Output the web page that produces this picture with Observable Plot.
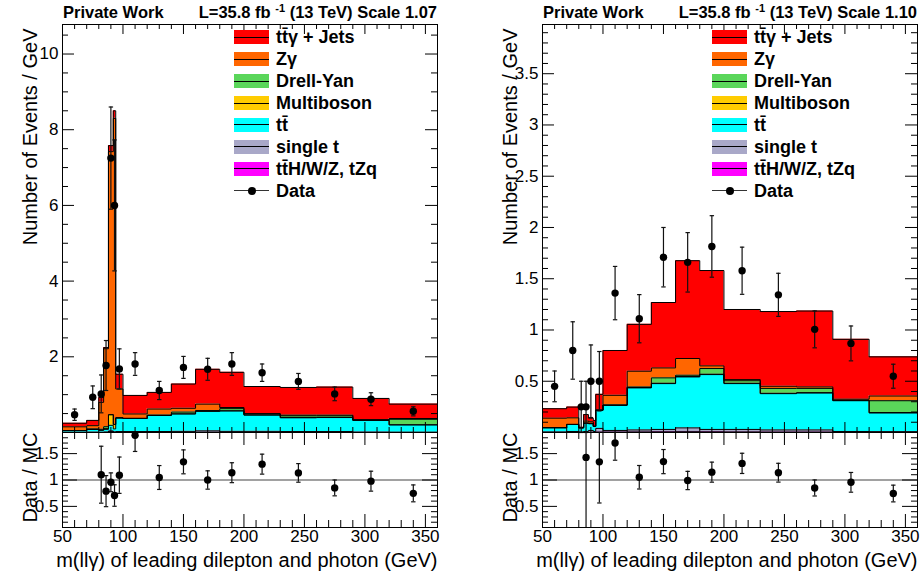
<!DOCTYPE html>
<html>
<head>
<meta charset="utf-8">
<script src="https://cdn.jsdelivr.net/npm/d3@7"></script>
<script src="https://cdn.jsdelivr.net/npm/@observablehq/plot@0.6"></script>
<style>
  html, body { margin: 0; padding: 0; background: #fff; }
  #fig { position: relative; width: 922px; height: 576px; overflow: hidden;
         font-family: "Liberation Sans", Arial, Helvetica, sans-serif; color: #000; }
  #fig > svg { position: absolute; }
  .hdr { position: absolute; top: 3px; font-weight: bold; font-size: 16.5px; line-height: 18px; white-space: nowrap; }
  .hdr sup { font-size: 11px; vertical-align: 6px; line-height: 0; }
  .sw { position: absolute; width: 35px; height: 14px; }
  .sw::after { content: ""; position: absolute; left: 0; right: 0; top: 6.5px; height: 1px; background: #000; }
  .lt { position: absolute; font-weight: bold; font-size: 18px; line-height: 20px; white-space: nowrap; }
  .dl { position: absolute; width: 35px; height: 1px; background: #333; }
  .dd { position: absolute; width: 8px; height: 8px; border-radius: 50%; background: #000; }
</style>
</head>
<body>
<div id="fig"></div>
<script>
// Bin edges in m(llγ) [GeV]; every histogram below is per GeV in these bins.
const binEdges = [50, 70, 80, 84, 88, 92, 94, 100, 120, 140, 160, 180, 200, 230, 260, 290, 320, 360];

// Stack order, bottom first.
const processLabels = ["tt̄H/W/Z, tZq", "single t", "tt̄", "Multiboson", "Drell-Yan", "Zγ", "tt̄γ + Jets"];
const processColors = ["#ff00ff", "#a9a8c8", "#00ffff", "#ffcc00", "#5ad65a", "#ff6600", "#ff0000"];

// Axis tick labels
const xTickValues = [50, 100, 150, 200, 250, 300, 350];
const leftYTicks = [2, 4, 6, 8, 10];
const rightYTicks = [0.5, 1, 1.5, 2, 2.5, 3, 3.5];
const ratioYTicks = [0.5, 1, 1.5];

// Left panel: simulated processes (events / GeV)
const leftTtV        = [0.002, 0.002, 0.002, 0.003, 0.03, 0.005, 0.005, 0.005, 0.006, 0.007, 0.008, 0.007, 0.006, 0.005, 0.005, 0.004, 0.003];
const leftSingleTop  = [0.003, 0.008, 0.005, 0.01, 0.01, 0.01, 0.02, 0.02, 0.02, 0.023, 0.035, 0.023, 0.024, 0.02, 0.02, 0.006, 0.005];
const leftTtbar      = [0.045, 0.07, 0.05, 0.07, 0.15, 0.08, 0.355, 0.345, 0.424, 0.46, 0.517, 0.54, 0.43, 0.365, 0.37, 0.31, 0.192];
const leftMultiboson = [0.001, 0.005, 0.01, 0.02, 0.28, 0.12, 0.01, 0.003, 0.004, 0.004, 0.004, 0.004, 0.004, 0.004, 0.004, 0.003, 0.005];
const leftDrellYan   = [0, 0.01, 0.02, 0.05, 0, 0, 0, 0, 0.006, 0.046, 0.016, 0.056, 0.026, 0.046, 0.041, 0.007, 0.145];
const leftZgamma     = [0.099, 0.085, 0.71, 2.06, 6.95, 8.085, 0.76, 0.117, 0.16, 0.1, 0.17, 0.03, 0.01, 0.02, 0.02, 0.01, 0.02];
const leftTtgamma    = [0.095, 0.14, 0.13, 0.03, 0.16, 0.2, 0.39, 0.49, 0.44, 0.64, 0.92, 0.93, 0.715, 0.73, 0.74, 0.56, 0.38];
// Left panel: data and its uncertainty
const leftData    = [0.47, 0.93, 1.02, 1.77, 7.25, 6.0, 1.68, 1.81, 1.11, 1.72, 1.67, 1.81, 1.58, 1.35, 1.02, 0.88, 0.56];
const leftDataErr = [0.15, 0.3, 0.5, 0.66, 1.35, 1.73, 0.53, 0.3, 0.24, 0.29, 0.29, 0.3, 0.23, 0.21, 0.18, 0.17, 0.12];

// Right panel: simulated processes (events / GeV)
const rightTtV        = [0.002, 0.002, 0.002, 0.003, 0.003, 0.002, 0.005, 0.005, 0.006, 0.007, 0.008, 0.007, 0.006, 0.005, 0.005, 0.004, 0.003];
const rightSingleTop  = [0.003, 0.008, 0.003, 0.007, 0.017, 0.008, 0.035, 0.015, 0.019, 0.023, 0.037, 0.023, 0.024, 0.02, 0.02, 0.006, 0.005];
const rightTtbar      = [0.041, 0.068, 0.041, 0.08, 0.065, 0.05, 0.176, 0.245, 0.41, 0.447, 0.497, 0.535, 0.447, 0.354, 0.36, 0.30, 0.182];
const rightMultiboson = [0.001, 0.001, 0, 0.002, 0.004, 0.001, 0.002, 0.003, 0.004, 0.004, 0.004, 0.004, 0.004, 0.004, 0.004, 0.003, 0.005];
const rightDrellYan   = [0, 0, 0, 0, 0, 0, 0, 0, 0.005, 0.052, 0.013, 0.055, 0.024, 0.047, 0.041, 0.002, 0.115];
const rightZgamma     = [0.093, 0.064, 0, 0.02, 0.016, 0, 0, 0.095, 0.154, 0.097, 0.163, 0.026, 0.011, 0.021, 0.015, 0.01, 0.046];
const rightTtgamma    = [0.092, 0.105, 0.004, 0.063, 0.035, 0.057, 0.154, 0.437, 0.457, 0.638, 0.954, 0.93, 0.684, 0.729, 0.74, 0.584, 0.382];
// Right panel: data and its uncertainty (empty bin left out)
const rightData    = [0.45, 0.80, 0.25, 0.25, 0.50, null, 0.50, 1.36, 1.11, 1.71, 1.66, 1.815, 1.578, 1.343, 1.006, 0.869, 0.549];
const rightDataErr = [0.15, 0.28, 0.25, 0.25, 0.354, null, 0.29, 0.26, 0.235, 0.29, 0.29, 0.3, 0.23, 0.21, 0.18, 0.17, 0.117];

const fig = document.getElementById("fig");
const FONT = '"Liberation Sans", Arial, Helvetica, sans-serif';
const FW = 375, FH = 408, RH = 95;   // frame sizes (px)
const numFormat = d3.format("~g");

// small horizontal bar used as the error-bar cap
const capSymbol = { draw(ctx) { ctx.moveTo(-2.2, 0); ctx.lineTo(2.2, 0); } };

function yTickRules(major, minor, majLen, minLen) {
  return [
    Plot.ruleY(major, { insetRight: FW - majLen }),
    Plot.ruleY(major, { insetLeft: FW - majLen }),
    Plot.ruleY(minor, { insetRight: FW - minLen }),
    Plot.ruleY(minor, { insetLeft: FW - minLen })
  ];
}
function xTickRules(major, minor, fh, majLen, minLen) {
  return [
    Plot.ruleX(major, { insetBottom: fh - majLen }),
    Plot.ruleX(major, { insetTop: fh - majLen }),
    Plot.ruleX(minor, { insetBottom: fh - minLen }),
    Plot.ruleX(minor, { insetTop: fh - minLen })
  ];
}
function errorMarks(rows, x, y, e, clip) {
  const col = "#111";
  return [
    Plot.ruleX(rows, { x, y1: d => d[y] - d[e], y2: d => d[y] + d[e], stroke: col, strokeWidth: 1.2, clip }),
    Plot.dot(rows, { x, y: d => d[y] - d[e], symbol: capSymbol, fill: "none", stroke: col, strokeWidth: 1.2, clip }),
    Plot.dot(rows, { x, y: d => d[y] + d[e], symbol: capSymbol, fill: "none", stroke: col, strokeWidth: 1.2, clip }),
    Plot.dot(rows, { x, y, r: 3.7, fill: "#000", stroke: null, clip })
  ];
}

function place(svg, left, top) {
  svg.style.left = left + "px";
  svg.style.top = top + "px";
  fig.appendChild(svg);
}

function drawPanel(p) {
  const nb = binEdges.length - 1;
  const centers = d3.range(nb).map(i => (binEdges[i] + binEdges[i + 1]) / 2);

  // stack the processes, bottom first
  const base = new Array(nb).fill(0);
  const rows = [];
  p.components.forEach((vals, k) => {
    binEdges.forEach((x, i) => {
      const j = Math.min(i, nb - 1);
      rows.push({ x, lo: base[j], hi: base[j] + vals[j], proc: processLabels[k] });
    });
    vals.forEach((v, j) => { base[j] += v; });
  });
  const total = base;

  const pts = centers.map((c, i) => ({ c, v: p.data[i], e: p.err[i], mc: total[i] }))
                     .filter(d => d.v != null);
  const ratio = pts.map(d => ({ c: d.c, r: d.v / d.mc, e: d.e / d.mc }))
                   .filter(d => d.r > 0.1 && d.r < 1.9);

  const style = { background: "transparent", fontFamily: FONT, fontSize: "17px", overflow: "visible", color: "#000" };
  const xMinor = d3.range(60, 360, 10).filter(v => v % 50 !== 0);

  const main = Plot.plot({
    width: 461, height: 434,
    marginLeft: 62, marginRight: 24, marginTop: 24, marginBottom: 2,
    x: { domain: [50, 360], axis: null },
    y: { domain: [0, p.yMax] },
    color: { domain: processLabels, range: processColors },
    style,
    marks: [
      Plot.areaY(rows, { x: "x", y1: "lo", y2: "hi", z: "proc", fill: "proc", curve: "step-after" }),
      Plot.lineY(rows, { x: "x", y: "hi", z: "proc", curve: "step-after", stroke: "#000", strokeWidth: 1 }),
      ...yTickRules(p.yTicks, p.yMinor, 12, 6),
      ...xTickRules(xTickValues, xMinor, FH, 10, 5),
      Plot.frame({ stroke: "#000" }),
      Plot.axisY(p.yTicks, { tickSize: 0, tickPadding: 4, label: null, tickFormat: numFormat }),
      Plot.text(["Number of Events / GeV"], { text: d => d, frameAnchor: "top-left", dx: -40, dy: 4,
        rotate: -90, textAnchor: "end", fontSize: 20 }),
      ...errorMarks(pts, "c", "v", "e", false)
    ]
  });
  place(main, p.left, 0);

  const ratioMinor = d3.range(2, 19).filter(i => i % 5 !== 0).map(i => i / 10);
  const rp = Plot.plot({
    width: 461, height: 146,
    marginLeft: 62, marginRight: 24, marginTop: 2, marginBottom: 49,
    x: { domain: [50, 360] },
    y: { domain: [0.1, 1.9] },
    style,
    marks: [
      Plot.ruleY([1], { stroke: "#444", strokeWidth: 1.2 }),
      ...yTickRules(ratioYTicks, ratioMinor, 15, 6),
      ...xTickRules(xTickValues, xMinor, RH, 13, 7),
      Plot.frame({ stroke: "#000" }),
      Plot.axisY(ratioYTicks, { tickSize: 0, tickPadding: 4, label: null, tickFormat: numFormat }),
      Plot.axisX(xTickValues, { tickSize: 0, tickPadding: 2, label: null, tickFormat: numFormat }),
      Plot.text(["Data / MC"], { text: d => d, frameAnchor: "top-left", dx: -40, dy: 0,
        rotate: -90, textAnchor: "end", fontSize: 20 }),
      Plot.text(["m(llγ) of leading dilepton and photon (GeV)"], { text: d => d, frameAnchor: "bottom-right",
        dy: 39, textAnchor: "end", fontSize: 20 }),
      ...errorMarks(ratio, "c", "r", "e", true)
    ]
  });
  place(rp, p.left, 430);

  // header line
  const h1 = document.createElement("div");
  h1.className = "hdr";
  h1.style.left = (p.left + 63) + "px";
  h1.textContent = "Private Work";
  fig.appendChild(h1);
  const h2 = document.createElement("div");
  h2.className = "hdr";
  h2.style.right = (922 - (p.left + 437)) + "px";
  h2.innerHTML = "L=35.8 fb <sup>-1</sup> (13 TeV) Scale " + p.scale;
  fig.appendChild(h2);

  // legend, top entry is the top of the stack
  const lx = p.left + p.legendX, rowH = 21.9, y0 = 37.3;
  const entries = processLabels.map((l, k) => ({ l, c: processColors[k] })).reverse();
  entries.forEach((en, i) => {
    const cy = y0 + i * rowH;
    const sw = document.createElement("div");
    sw.className = "sw";
    sw.style.left = lx + "px";
    sw.style.top = (cy - 7) + "px";
    sw.style.background = en.c;
    fig.appendChild(sw);
    const t = document.createElement("div");
    t.className = "lt";
    t.style.left = (lx + 42) + "px";
    t.style.top = (cy - 10) + "px";
    t.textContent = en.l;
    fig.appendChild(t);
  });
  const cy = y0 + entries.length * rowH;
  const ln = document.createElement("div");
  ln.className = "dl"; ln.style.left = lx + "px"; ln.style.top = (cy - 0.5) + "px";
  fig.appendChild(ln);
  const dd = document.createElement("div");
  dd.className = "dd"; dd.style.left = (lx + 13.5) + "px"; dd.style.top = (cy - 4) + "px";
  fig.appendChild(dd);
  const t = document.createElement("div");
  t.className = "lt"; t.style.left = (lx + 42) + "px"; t.style.top = (cy - 10) + "px";
  t.textContent = "Data";
  fig.appendChild(t);
}

drawPanel({
  left: 0, legendX: 234, scale: "1.07",
  yMax: 10.78, yTicks: leftYTicks,
  yMinor: d3.range(1, 22).filter(i => i % 4 !== 0).map(i => i / 2),
  components: [leftTtV, leftSingleTop, leftTtbar, leftMultiboson, leftDrellYan, leftZgamma, leftTtgamma],
  data: leftData, err: leftDataErr
});
drawPanel({
  left: 480, legendX: 232, scale: "1.10",
  yMax: 3.98, yTicks: rightYTicks,
  yMinor: d3.range(1, 40).filter(i => i % 5 !== 0).map(i => i / 10),
  components: [rightTtV, rightSingleTop, rightTtbar, rightMultiboson, rightDrellYan, rightZgamma, rightTtgamma],
  data: rightData, err: rightDataErr
});
</script>
</body>
</html>
